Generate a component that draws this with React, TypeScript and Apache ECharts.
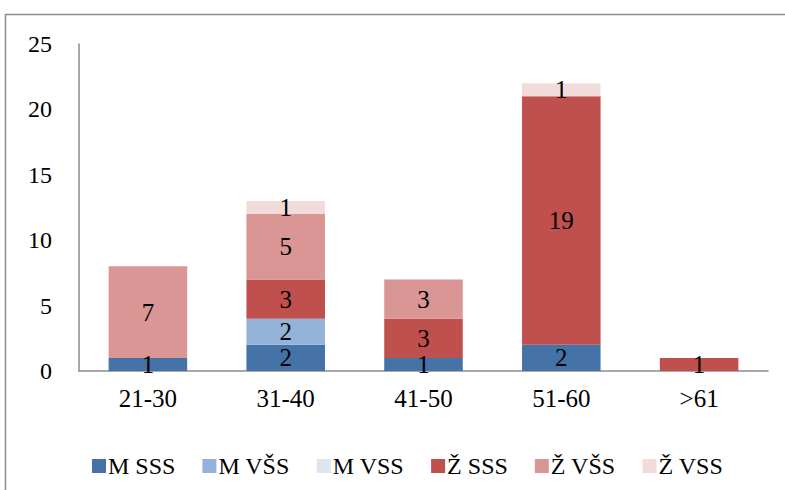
import React, { useEffect, useRef } from "react";
import * as echarts from "echarts";

const categories = ["21-30", "31-40", "41-50", "51-60", ">61"];
const seriesNames = ["M SSS", "M VŠS", "M VSS", "Ž SSS", "Ž VŠS", "Ž VSS"];
const mSSS = [1, 2, 1, 2, null];
const mVSS_ = [null, 2, null, null, null];
const mVSS = [null, null, null, null, null];
const zSSS = [null, 3, 3, 19, 1];
const zVSS_ = [7, 5, 3, null, null];
const zVSS = [null, 1, null, 1, null];
const colors = ["#4572A7", "#93B3D8", "#DCE6F2", "#C0504D", "#D99694", "#F2DCDB"];
const yTicks = [0, 5, 10, 15, 20, 25];

const FONT = "'Liberation Serif', 'Times New Roman', serif";

export default function App() {
  const ref = useRef<HTMLDivElement>(null);
  useEffect(() => {
    if (!ref.current) return;
    const chart = echarts.init(ref.current, null, { renderer: "svg" });
    const values = [mSSS, mVSS_, mVSS, zSSS, zVSS_, zVSS];
    chart.setOption({
      animation: false,
      color: colors,
      graphic: [
        {
          type: "rect",
          shape: { x: 5.5, y: 14.5, width: 820, height: 500 },
          style: { fill: "none", stroke: "#8c8c8c", lineWidth: 1.5 },
        },
      ],
      grid: { left: 79, top: 44, right: 17, bottom: 119, containLabel: false },
      legend: {
        top: 449,
        left: 87,
        itemWidth: 14,
        itemHeight: 14,
        itemGap: 27,
        icon: "rect",
        textStyle: { fontFamily: FONT, fontSize: 24, color: "#000", padding: [0, 0, 0, -3] },
        data: seriesNames,
      },
      xAxis: {
        type: "category",
        data: categories,
        axisLine: { lineStyle: { color: "#8c8c8c", width: 1.5 } },
        axisTick: { show: false },
        axisLabel: { fontFamily: FONT, fontSize: 25, color: "#000", margin: 15 },
      },
      yAxis: {
        type: "value",
        min: yTicks[0],
        max: yTicks[yTicks.length - 1],
        interval: 5,
        axisLine: { show: true, lineStyle: { color: "#8c8c8c", width: 1.5 } },
        axisTick: { show: false },
        splitLine: { show: false },
        axisLabel: { fontFamily: FONT, fontSize: 24, color: "#000", margin: 27 },
      },
      series: seriesNames.map((name, i) => ({
        name,
        type: "bar",
        stack: "total",
        barWidth: "57%",
        data: values[i],
        itemStyle: { color: colors[i] },
        label: {
          show: true,
          position: "inside",
          fontFamily: FONT,
          fontSize: 25,
          color: "#000",
          formatter: (p: any) => (p.value ? String(p.value) : ""),
        },
      })),
    });
    return () => chart.dispose();
  }, []);
  return (
    <div
      ref={ref}
      style={{ position: "absolute", left: 0, top: 0, width: 785, height: 490 }}
    />
  );
}
